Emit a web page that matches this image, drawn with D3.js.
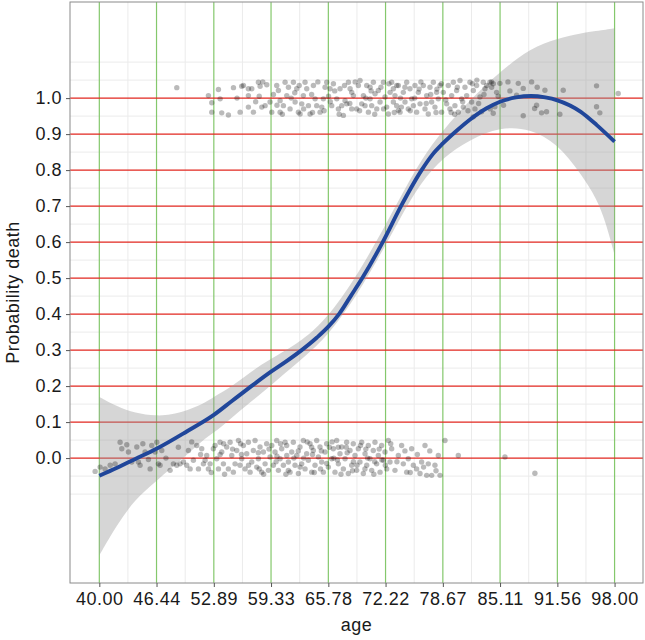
<!DOCTYPE html>
<html>
<head>
<meta charset="utf-8">
<script src="https://cdn.jsdelivr.net/npm/d3@7"></script>
<style>
  body { margin: 0; background: #fff; }
  text { font-family: "Liberation Sans", Arial, sans-serif; fill: #1a1a1a; }
</style>
</head>
<body>
<svg width="645" height="640"></svg>
<script>
// tick values
var xTicks = [40, 46.44, 52.89, 59.33, 65.78, 72.22, 78.67, 85.11, 91.56, 98];
var yTicks = [0, 0.1, 0.2, 0.3, 0.4, 0.5, 0.6, 0.7, 0.8, 0.9, 1.0];

// smoothed fit (age, probability) and its confidence band
var fitAge = [40, 42, 44, 46.44, 49.84, 52.89, 55, 56.97, 59.33, 61, 62.78, 64.5, 65.78, 66.98, 68.3, 69.6, 71.9, 73.96, 76.28, 77.5, 78.67, 80.25, 81.7, 83.6, 85.11, 86.9, 88.6, 90.2, 91.56, 94.2, 96, 98];
var fitVal = [-0.049, -0.027, -0.003, 0.026, 0.074, 0.12, 0.16, 0.197, 0.24, 0.268, 0.3, 0.335, 0.365, 0.4, 0.45, 0.5, 0.6, 0.7, 0.8, 0.843, 0.874, 0.91, 0.94, 0.972, 0.99, 1.002, 1.006, 1.002, 0.994, 0.962, 0.925, 0.879];

var bandAge = [40, 42, 44, 46.44, 48, 50, 52, 53.2, 55, 57.7, 60, 62.78, 65.78, 69.6, 73.96, 76.28, 78.67, 81.7, 85.11, 88.5, 91.56, 94.2, 96, 97, 98];
var bandLo  = [-0.27, -0.185, -0.115, -0.063, -0.03, 0.012, 0.058, 0.075, 0.115, 0.168, 0.217, 0.275, 0.34, 0.472, 0.672, 0.768, 0.835, 0.885, 0.92, 0.916, 0.874, 0.79, 0.72, 0.655, 0.564];
var bandHi  = [0.17, 0.143, 0.125, 0.117, 0.12, 0.133, 0.155, 0.175, 0.2, 0.252, 0.285, 0.325, 0.39, 0.528, 0.728, 0.832, 0.91, 0.995, 1.073, 1.139, 1.166, 1.18, 1.187, 1.19, 1.194];

// jittered observations: died (around 1) and survived (around 0)
var diedPts = [
  [48.72,1.029],[52.28,1.007],[52.66,0.987],[52.66,0.961],[53.41,1.024],[53.6,0.998],[53.78,0.959],[54.53,0.953],
  [55.1,1.029],[56.03,1.033],[55.85,0.961],[56.22,1.035],[56.78,1.026],[56.78,1.007],[56.78,0.975],[57.16,1.026],
  [57.35,0.961],[57.91,1.044],[58.1,1.033],[58.29,0.975],[58.66,0.979],[58.85,1.037],[59.22,0.989],[59.41,0.961],
  [59.97,1.035],[60.16,1.021],[60.35,0.961],[60.72,0.979],[60.91,1.044],[61.1,1.007],[61.29,1.03],[61.47,0.97],
  [61.85,1.044],[62.04,0.989],[62.22,1.026],[62.41,0.961],[62.6,0.956],[62.97,1.007],[63.16,1.044],[63.35,1.026],
  [63.54,0.979],[63.72,0.956],[64.1,1.035],[64.29,0.998],[64.47,0.979],[64.85,0.961],[65.22,0.998],[65.6,1.044],
  [65.97,1.026],[66.16,0.979],[66.35,1.04],[66.73,0.998],[66.91,0.97],[67.1,1.026],[67.29,0.979],[67.47,0.952],
  [67.85,0.984],[68.04,1.044],[68.23,1.026],[68.41,0.97],[68.6,1.007],[68.97,0.97],[69.16,1.035],[69.35,1.049],
  [69.73,1.007],[69.91,0.979],[70.1,1.035],[70.29,0.961],[70.48,0.998],[70.66,0.979],[70.85,1.044],[71.23,0.97],
  [71.41,1.021],[71.6,0.989],[71.98,1.044],[72.35,0.975],[72.54,0.956],[72.73,1.016],[73.1,0.989],[73.48,1.035],
  [73.66,0.966],[60.35,0.993],[62.79,0.984],[65.04,0.975],[67.66,0.993],[69.54,0.984],[71.04,1.012],[72.16,1.003],
  [65.41,1.03],[68.41,1.016],[70.48,1.03],
  [72.91,1.044],[73.1,1.026],[73.28,1.007],[73.47,0.979],[73.66,1.035],[73.85,0.961],[74.22,1.016],[74.41,0.989],
  [74.6,1.044],[74.78,0.97],[74.97,1.026],[75.16,0.998],[75.35,0.979],[75.53,1.035],[75.72,0.961],[75.91,1.016],
  [76.1,0.984],[76.47,1.035],[76.66,0.97],[76.85,1.007],[77.03,0.956],[77.22,1.03],[77.41,0.989],[77.6,1.044],
  [77.78,0.975],[77.97,1.016],[78.16,0.998],[78.35,1.035],[78.53,0.961],[78.72,1.016],[79.1,0.984],[79.28,1.035],
  [79.47,0.97],[79.66,1.007],[79.85,1.044],[80.03,0.979],[80.22,1.021],[80.41,0.961],[80.6,1.049],[80.78,0.998],
  [80.97,0.975],[81.16,1.03],[81.35,1.007],[81.72,1.044],[81.91,0.989],[82.1,1.021],[82.28,0.97],[82.47,1.035],
  [82.85,1.003],[83.22,1.044],[83.41,1.026],[83.6,1.035],[83.97,1.044],[84.16,1.03],[84.35,1.04],[84.72,1.016],
  [87.16,1.041],[87.72,1.027],[88.66,1.045],[89.29,1.03],[90.16,1.022],[92.22,1.022],[86.22,1.02],[86.97,1.008],
  [89.22,0.98],[89.0,0.971],[89.78,0.959],[90.34,0.962],[87.72,0.951],[91.84,0.955],[95.97,1.034],[95.97,0.976],
  [96.34,0.959],[98.41,1.013],[85.09,1.041],[84.15,1.045],[84.53,0.976],[84.34,0.958],[83.03,0.962],[82.09,0.948],
  [55.5,1.0],[57.6,0.99],[58.4,1.045],[59.6,1.01],[60.6,0.955],[61.6,1.0],[62.5,1.035],[63.0,0.97],
  [63.9,1.01],[64.6,1.045],[65.3,0.965],[65.8,1.005],[66.5,1.02],[67.0,0.955],[67.6,1.035],[68.2,0.985],
  [68.8,1.045],[69.3,0.965],[70.0,1.0],[70.6,1.02],[71.0,0.955],[71.7,1.03],[72.0,0.97],[72.6,1.04],
  [73.2,0.96],[73.9,1.0],[74.4,1.03],[75.0,0.965],[75.5,1.0],[76.2,1.045],[76.8,0.985],[77.3,1.01],
  [77.9,0.96],[78.5,1.04],[79.0,0.995],[79.6,0.96],[80.3,1.03],[80.9,0.99],[81.5,0.965],[82.0,1.04],
  [82.7,0.985],[83.3,1.01],[84.0,0.97],[84.9,1.005],[85.5,0.98],[86.0,1.045],[74.0,0.975],[76.0,1.025],
  [78.0,1.025],[80.0,0.955],[82.5,1.05],[66.0,0.99],[64.0,0.96],[62.0,1.015],[60.0,0.98],[58.0,1.005]
];

var survPts = [
  [39.53,-0.037],[40.09,-0.025],[40.65,-0.03],[41.22,-0.02],[41.78,-0.016],[42.34,0.044],[42.53,0.026],[43.09,0.037],
  [43.28,0.017],[43.65,-0.011],[44.22,0.031],[44.4,-0.011],[44.59,-0.02],[45.15,0.017],[45.53,-0.004],[45.72,-0.03],
  [45.9,0.035],[46.28,0.017],[46.47,0.044],[46.65,-0.016],[46.84,-0.02],[47.03,0.021],[47.97,-0.034],[48.34,-0.016],
  [48.72,-0.02],[49.09,-0.016],[49.47,-0.011],[49.84,-0.02],[50.03,0.021],[50.22,-0.03],[50.59,-0.006],[50.97,0.035],
  [51.16,-0.03],[51.53,0.026],[51.72,-0.016],[51.91,-0.006],[52.09,0.007],[52.28,-0.03],[52.47,-0.016],[52.84,0.026],
  [53.03,0.035],[53.22,-0.002],[53.41,-0.03],[53.59,0.044],[53.78,0.017],[53.97,-0.016],[54.34,0.031],[54.53,-0.03],
  [54.72,0.044],[54.91,0.007],[55.09,-0.039],[55.28,-0.016],[55.47,0.021],[55.66,0.049],[55.84,-0.02],[56.03,-0.002],
  [56.22,0.035],[56.41,-0.03],[56.59,0.012],[56.78,0.044],[56.97,-0.039],[57.16,-0.011],[57.34,0.021],[57.53,0.049],
  [57.72,-0.025],[57.91,-0.002],[58.09,0.031],[58.28,-0.039],[58.47,0.017],[58.66,-0.016],[58.84,0.04],[59.03,-0.034],
  [59.22,0.003],[59.41,0.035],[59.59,-0.02],[59.78,0.017],[59.97,0.049],[60.16,-0.034],[60.35,-0.002],[60.53,0.026],
  [60.72,-0.02],[60.91,0.044],[61.1,0.007],[61.28,-0.034],
  [61.09,0.035],[61.28,-0.011],[61.47,-0.039],[61.66,0.017],[61.84,0.044],[62.03,-0.02],[62.22,0.007],[62.41,-0.043],
  [62.59,0.031],[62.78,-0.016],[62.97,0.049],[63.16,-0.03],[63.34,0.012],[63.53,-0.006],[63.72,0.04],[63.91,-0.039],
  [64.09,0.021],[64.28,-0.02],[64.47,0.049],[64.66,0.003],[64.84,0.031],[65.03,-0.011],[65.22,-0.039],[65.41,0.017],
  [65.59,0.04],[65.78,-0.025],[66.16,-0.002],[66.34,0.026],[66.53,-0.039],[66.72,0.049],[66.91,-0.016],[67.09,0.012],
  [67.28,0.031],[67.47,-0.03],[67.66,-0.002],[67.84,0.044],[68.03,-0.043],[68.22,0.021],[68.41,-0.02],[68.59,0.04],
  [68.78,0.007],[68.97,-0.034],[69.16,0.026],[69.34,-0.011],[69.53,0.044],[69.72,-0.043],[69.91,0.012],[70.1,-0.02],
  [70.28,0.035],[70.47,-0.002],[70.66,-0.034],[70.84,0.021],[71.03,0.044],[71.22,-0.016],[71.41,0.007],[71.6,-0.039],
  [71.78,0.035],[71.97,-0.006],[72.16,0.017],[72.35,-0.03],[72.53,0.049],[72.72,-0.011],[72.91,0.026],[73.28,-0.034],
  [73.66,0.007],[74.03,0.035],[74.22,-0.016],[74.6,-0.039],[74.78,-0.002],[75.16,0.026],[75.35,-0.02],[75.72,-0.03],
  [76.1,-0.043],[76.28,-0.011],[76.66,0.035],[76.85,-0.048],[77.03,-0.016],[77.41,-0.048],[77.78,-0.02],[78.16,0.007],
  [78.35,-0.048],[78.91,0.049],[80.41,0.007],[85.66,0.003],[89.03,-0.042],
  [63.0,0.0],[64.0,0.01],[65.9,0.03],[66.8,-0.005],[67.9,0.015],[69.0,-0.02],[70.0,0.025],[71.0,-0.01],
  [64.9,-0.03],[62.4,0.02],[68.5,-0.035],[66.2,0.045],
  [44.9,0.04],[47.5,0.0],[48.9,0.03],[50.4,0.045],[51.4,0.01],[52.6,-0.04],[53.6,0.01],[54.1,-0.045],
  [55.0,0.025],[55.9,0.04],[56.8,-0.02],[57.9,0.015],[58.5,-0.045],[59.1,0.025],[59.9,-0.01],[60.4,0.04],
  [61.0,-0.045],[61.9,0.0],[62.6,-0.025],[63.4,0.045],[64.2,-0.04],[65.0,0.02],[65.6,-0.015],[66.4,0.0],
  [67.2,-0.045],[67.8,0.03],[68.6,-0.01],[69.4,0.035],[70.2,0.0],[70.9,-0.045],[71.5,0.025],[72.2,-0.02],
  [72.8,0.04],[73.5,-0.01],[74.4,0.02],[75.0,-0.04],[75.8,0.01],[76.5,-0.025],[77.2,0.02],[77.9,-0.035],
  [60.0,0.005],[58.0,-0.03],[56.0,0.01],[54.0,0.04],[66.9,0.03],[69.9,-0.03],[71.8,-0.005],[63.9,0.03]
];

var panel = { left: 70, top: 2, right: 643, bottom: 583 };

var svg = d3.select("svg");

var x = d3.scaleLinear().domain([36.7, 101.2]).range([panel.left, panel.right]);
var y = d3.scaleLinear().domain([-0.347, 1.267]).range([panel.bottom, panel.top]);

// minor grid
var xMinor = xTicks.slice(1).map(function(d, i) { return (d + xTicks[i]) / 2; });
var yMinor = d3.range(-0.1, 1.101, 0.05).filter(function(d) {
  return Math.abs(Math.round(d * 10) - d * 10) > 0.01 || d < -0.01 || d > 1.01;
});

var grid = svg.append("g");
grid.selectAll(".vmin").data(xMinor).enter().append("line")
  .attr("x1", x).attr("x2", x).attr("y1", panel.top).attr("y2", panel.bottom)
  .attr("stroke", "#ebebeb").attr("stroke-width", 1);
grid.selectAll(".hmin").data(yMinor).enter().append("line")
  .attr("y1", y).attr("y2", y).attr("x1", panel.left).attr("x2", panel.right)
  .attr("stroke", "#ebebeb").attr("stroke-width", 1);

// major grid: green verticals, red horizontals
grid.selectAll(".vmaj").data(xTicks).enter().append("line")
  .attr("x1", x).attr("x2", x).attr("y1", panel.top).attr("y2", panel.bottom)
  .attr("stroke", "#84c86c").attr("stroke-width", 1.2);
grid.selectAll(".hmaj").data(yTicks).enter().append("line")
  .attr("y1", y).attr("y2", y).attr("x1", panel.left).attr("x2", panel.right)
  .attr("stroke", "#e2271f").attr("stroke-width", 1.3);

// confidence band
var band = bandAge.map(function(a, i) { return { age: a, lo: bandLo[i], hi: bandHi[i] }; });
svg.append("path")
  .datum(band)
  .attr("d", d3.area()
    .x(function(d) { return x(d.age); })
    .y0(function(d) { return y(d.lo); })
    .y1(function(d) { return y(d.hi); })
    .curve(d3.curveBasis))
  .attr("fill", "#999").attr("fill-opacity", 0.4);

// points
var pts = svg.append("g");
pts.selectAll(".died").data(diedPts).enter().append("circle")
  .attr("cx", function(d) { return x(d[0]); })
  .attr("cy", function(d) { return y(d[1]); })
  .attr("r", 2.7).attr("fill", "#000").attr("fill-opacity", 0.27);
pts.selectAll(".surv").data(survPts).enter().append("circle")
  .attr("cx", function(d) { return x(d[0]); })
  .attr("cy", function(d) { return y(d[1]); })
  .attr("r", 2.7).attr("fill", "#000").attr("fill-opacity", 0.27);

// fitted curve
var fit = fitAge.map(function(a, i) { return { age: a, p: fitVal[i] }; });
svg.append("path")
  .datum(fit)
  .attr("d", d3.line()
    .x(function(d) { return x(d.age); })
    .y(function(d) { return y(d.p); })
    .curve(d3.curveMonotoneX))
  .attr("fill", "none").attr("stroke", "#20469a").attr("stroke-width", 3.9);

// border
svg.append("rect")
  .attr("x", panel.left).attr("y", panel.top)
  .attr("width", panel.right - panel.left).attr("height", panel.bottom - panel.top)
  .attr("fill", "none").attr("stroke", "#8a8a8a").attr("stroke-width", 1);

// axes
var xAxis = d3.axisBottom(x).tickValues(xTicks).tickFormat(d3.format(".2f")).tickSize(4).tickPadding(5);
var yAxis = d3.axisLeft(y).tickValues(yTicks).tickFormat(d3.format(".1f")).tickSize(4).tickPadding(4);

var gx = svg.append("g").attr("transform", "translate(0," + panel.bottom + ")").call(xAxis);
var gy = svg.append("g").attr("transform", "translate(" + panel.left + ",0)").call(yAxis);
[gx, gy].forEach(function(g) {
  g.select(".domain").remove();
  g.selectAll(".tick line").attr("stroke", "#555");
  g.selectAll(".tick text")
    .style("font-family", "'Liberation Sans', Arial, sans-serif")
    .style("font-size", "18px").style("letter-spacing", "0.5px").attr("fill", "#1a1a1a");
});

svg.append("text")
  .attr("x", (panel.left + panel.right) / 2).attr("y", 631)
  .attr("text-anchor", "middle").style("font-size", "18px").style("letter-spacing", "0.5px")
  .text("age");

svg.append("text")
  .attr("transform", "translate(19," + ((panel.top + panel.bottom) / 2) + ") rotate(-90)")
  .attr("text-anchor", "middle").style("font-size", "18px").style("letter-spacing", "0.5px")
  .text("Probability death");
</script>
</body>
</html>
